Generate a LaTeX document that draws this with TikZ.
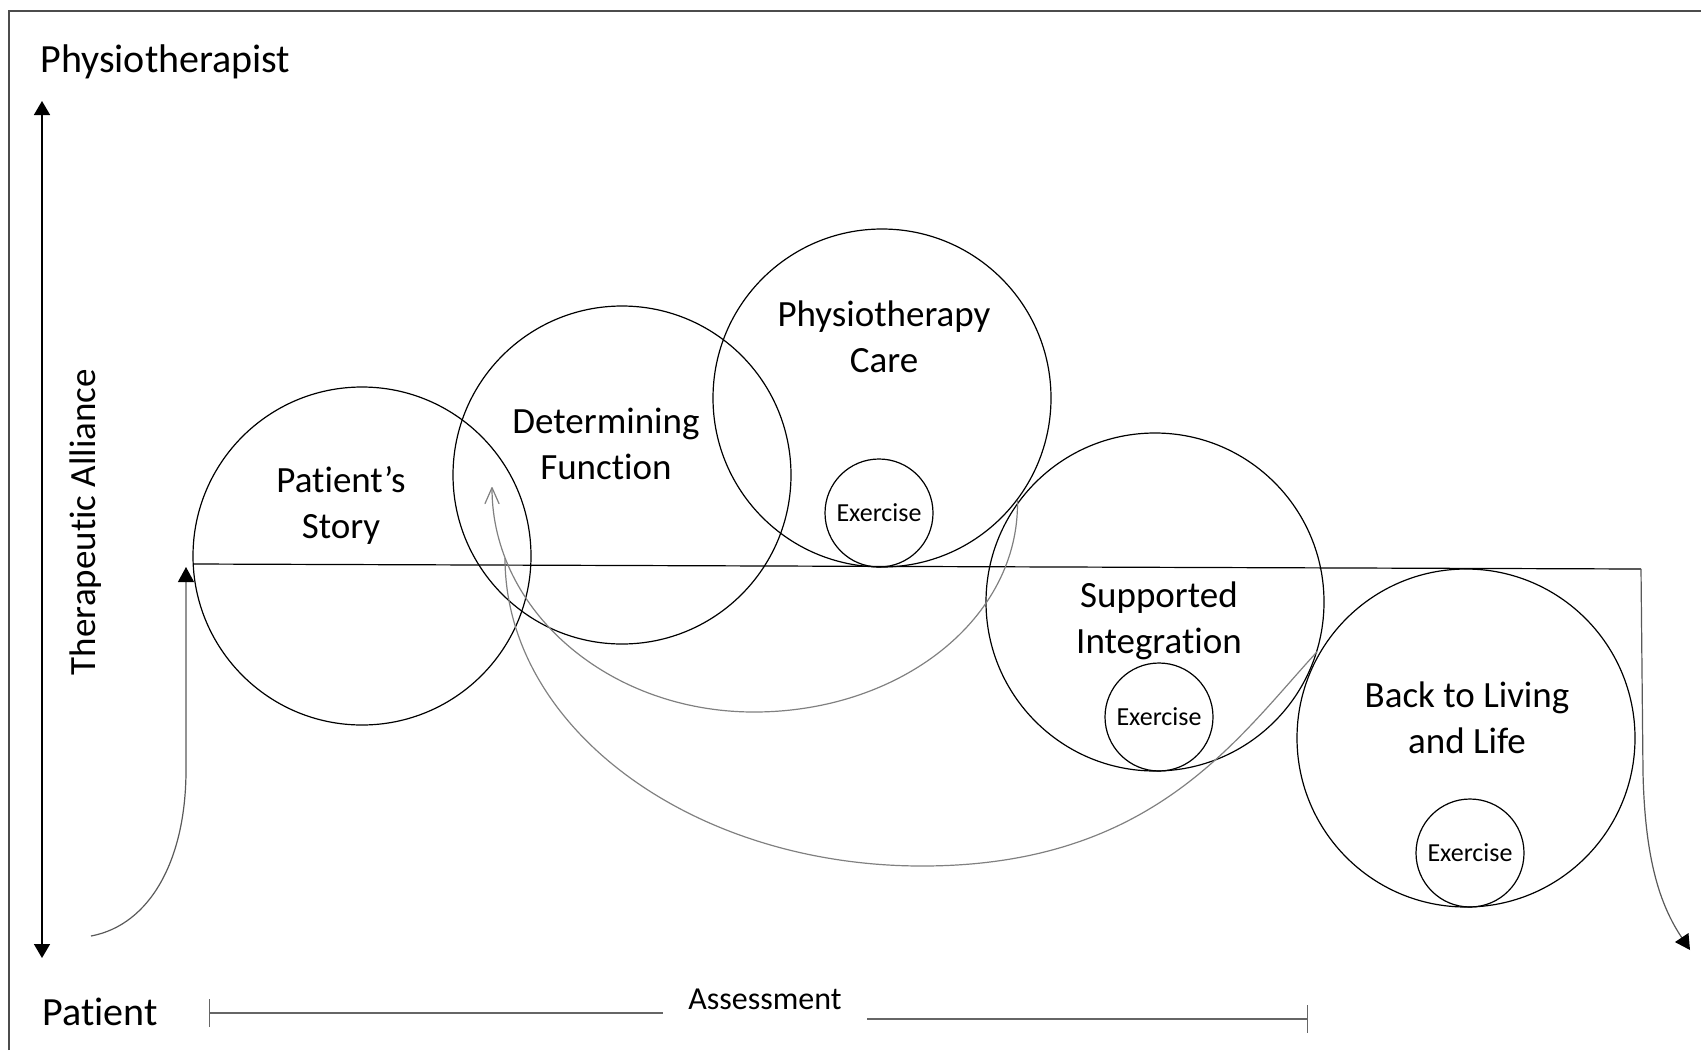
\documentclass[tikz,border=0pt]{standalone}
\usepackage{fontspec}
\setmainfont{Carlito}[Ligatures=NoCommon]
\usetikzlibrary{arrows.meta,positioning}
\tikzstyle{stage}=[
	circle,
	draw=black,
	line width=0.6pt,
	minimum size=169pt,
	inner sep=0pt
]
\tikzstyle{exercise}=[
	circle,
	draw=black,
	line width=0.6pt,
	minimum size=54pt,
	inner sep=0pt,
	font=\fontsize{13}{15}\selectfont
]
\tikzstyle{stagetext}=[
	align=center,
	inner sep=0pt,
	font=\fontsize{18.5}{23}\selectfont
]
\tikzstyle{axistext}=[
	inner sep=0pt,
	font=\fontsize{20}{24}\selectfont
]
\tikzstyle{loopback}=[
	draw=gray,
	line width=0.6pt
]
\tikzstyle{flow}=[
	draw=black!65,
	line width=0.6pt,
	-{Triangle[length=7.5pt,width=8pt,color=black]}
]

\begin{document}
\begin{tikzpicture}[x=0.5pt,y=-0.5pt]
\useasboundingbox (0,0) rectangle (1701,1050);
\draw[black!70, line width=0.7pt] (9,1050) -- (9,11) -- (1701,11);

\node [axistext, anchor=base west] (physio) at (40,72) {Physiotherapist};
\node [axistext, anchor=base west] (patient) at (42,1025) {Patient};
\node [stagetext, rotate=90, anchor=base] (alliance) at (95,522) {Therapeutic Alliance};
\coordinate (axtop) at (42,101);
\coordinate (axbot) at (42,958);
\draw [line width=0.8pt, {Triangle[length=7pt,width=8pt]}-{Triangle[length=7pt,width=8pt]}] (axtop) -- (axbot);

\node [stage] (story) at (362,556) {};
\node [stage] (function) at (622,475) {};
\node [stage] (care) at (882,398) {};
\node [stage] (integ) at (1155,602) {};
\node [stage] (living) at (1466,738) {};
\node [exercise, anchor=south, xshift=-1.5pt] (careex) at (care.south) {Exercise};
\node [exercise, anchor=south, xshift=2pt] (integex) at (integ.south) {Exercise};
\node [exercise, anchor=south, xshift=2pt] (livingex) at (living.south) {Exercise};

\node [stagetext] (storytext) at (341,505) {Patient’s\\Story};
\node [stagetext] (functiontext) at (606,444) {Determining\\Function};
\node [stagetext] (caretext) at (884,337) {Physiotherapy\\Care};
\node [stagetext] (integtext) at (1159,621) {Supported\\Integration};
\node [stagetext] (livingtext) at (1467,718) {Back to Living\\and Life};

\coordinate (lineL) at (193,564);
\coordinate (lineR) at (1641,569);
\coordinate (entry) at (91,936);
\coordinate (entrytip) at (186,567);
\coordinate (exit) at (1690,950);
\draw [black, line width=0.6pt] (lineL) -- (lineR);
\draw [flow] (entry) .. controls (150,925) and (186,860) .. (186,770) -- (entrytip);
\draw [flow] (lineR) -- (1643,773) .. controls (1645,860) and (1660,905) .. (exit);

\coordinate (backtip) at (492,487);
\coordinate (outerstart) at (505,558);
\draw [loopback, -{Straight Barb[length=8pt,width=7pt,round]}] (care.-37) .. controls (1020,618) and (901,712) .. (754,712) .. controls (609,712) and (492,611) .. (backtip);
\draw [loopback] (outerstart) .. controls (505,728) and (692,866) .. (922,866) .. controls (1152,866) and (1236,740) .. (integ.-17);

\node [font=\fontsize{16}{19}\selectfont, inner xsep=12.5pt, inner ysep=0pt] (assess) at (765,999) {Assessment};
\coordinate (assessL) at (209,1013);
\coordinate (assessR) at (1308,1019);
\draw [black!60, line width=0.7pt, {Bar[width=14pt]}-] (assessL) -- (assessL -| assess.west);
\draw [black!60, line width=0.7pt, -{Bar[width=14pt]}] (assess.east |- assessR) -- (assessR);
\end{tikzpicture}
\end{document}
